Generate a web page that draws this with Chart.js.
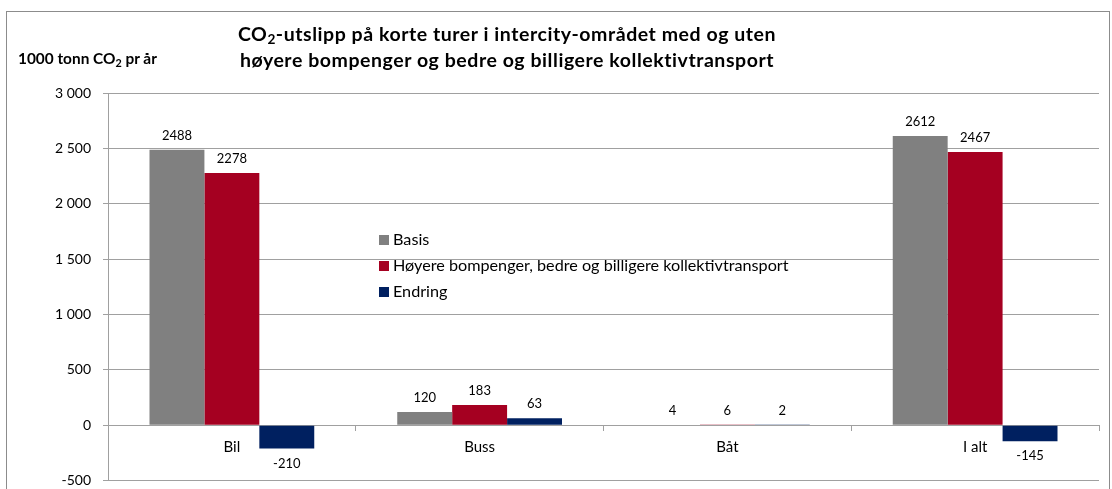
<!DOCTYPE html>
<html>
<head>
<meta charset="utf-8">
<script src="https://cdn.jsdelivr.net/npm/chart.js@4.4.1/dist/chart.umd.min.js"></script>
<style>
  html, body { margin: 0; padding: 0; background: #fff; }
  body { width: 1112px; height: 489px; position: relative; overflow: hidden; font-family: "Lato", "Open Sans", sans-serif; color: #000; }
  #frame { position: absolute; left: 6px; top: 11px; width: 1104px; height: 500px; border: 1px solid #8c8c8c; border-bottom: none; box-sizing: border-box; }
  #wrap { position: absolute; left: 0; top: 0; width: 1112px; height: 501px; }
  #wrap canvas { display: block; }
  #title { position: absolute; left: 155px; width: 704px; top: 21px; text-align: center; font-weight: bold; font-size: 19.5px; letter-spacing: 0.55px; line-height: 26px; }
  #ylab { position: absolute; left: 18px; top: 49px; font-weight: bold; font-size: 15.4px; }
  sub { font-size: 0.7em; vertical-align: -0.25em; line-height: 0; }
  #legend { position: absolute; left: 379px; top: 228px; font-size: 16.2px; }
  #legend div { height: 25.8px; line-height: 22px; white-space: nowrap; }
  #legend span.sw { display: inline-block; width: 10px; height: 10px; margin-right: 4px; vertical-align: 0px; }
</style>
</head>
<body>
<div id="frame"></div>
<div id="wrap"><canvas id="c" width="1112" height="501"></canvas></div>
<div id="title">CO<sub>2</sub>-utslipp på korte turer i intercity-området med og uten<br>høyere bompenger og bedre og billigere kollektivtransport</div>
<div id="ylab">1000 tonn CO<sub>2</sub> pr år</div>
<div id="legend"></div>
<script>
const categories = ["Bil", "Buss", "Båt", "I alt"];
const seriesNames = ["Basis", "Høyere bompenger, bedre og billigere kollektivtransport", "Endring"];
const basis = [2488, 120, 4, 2612];
const tiltak = [2278, 183, 6, 2467];
const endring = [-210, 63, 2, -145];
const yTicks = [-500, 0, 500, 1000, 1500, 2000, 2500, 3000];
const colors = ["#808080", "#A50021", "#002060"];

const leg = document.getElementById('legend');
seriesNames.forEach((n, i) => {
  const d = document.createElement('div');
  d.innerHTML = '<span class="sw" style="background:' + colors[i] + '"></span>' + n;
  leg.appendChild(d);
});

const fmt = v => {
  const s = Math.abs(v).toString().replace(/\B(?=(\d{3})+(?!\d))/g, ' ');
  return (v < 0 ? '-' : '') + s;
};

const labelPlugin = {
  id: 'valueLabels',
  afterDatasetsDraw(chart) {
    const ctx = chart.ctx;
    ctx.save();
    ctx.font = '13px Lato, "Open Sans", sans-serif';
    ctx.fillStyle = '#000';
    ctx.textAlign = 'center';
    ctx.textBaseline = 'middle';
    chart.data.datasets.forEach((ds, di) => {
      const meta = chart.getDatasetMeta(di);
      meta.data.forEach((bar, i) => {
        const v = ds.data[i];
        const y = v >= 0 ? bar.y - 14 : bar.y + 15;
        ctx.fillText(String(v), bar.x, y);
      });
    });
    ctx.restore();
  }
};

new Chart(document.getElementById('c'), {
  type: 'bar',
  data: {
    labels: categories,
    datasets: [
      { label: seriesNames[0], data: basis, backgroundColor: colors[0] },
      { label: seriesNames[1], data: tiltak, backgroundColor: colors[1] },
      { label: seriesNames[2], data: endring, backgroundColor: colors[2] }
    ]
  },
  options: {
    responsive: false,
    animation: false,
    devicePixelRatio: 1,
    layout: { padding: { left: 0, top: 93, right: 13, bottom: 10 } },
    plugins: { legend: { display: false }, tooltip: { enabled: false }, title: { display: false } },
    datasets: { bar: { categoryPercentage: 0.665, barPercentage: 1.0 } },
    scales: {
      x: {
        position: { y: 0 },
        grid: { display: true, drawOnChartArea: false, drawTicks: true, tickLength: 5, offset: true, color: '#a0a0a0' },
        border: { display: true, color: '#a0a0a0' },
        ticks: { color: '#000', font: { family: 'Lato, "Open Sans", sans-serif', size: 15 }, padding: 8 }
      },
      y: {
        min: -500, max: 3000,
        afterFit(scale) { scale.width = 108; },
        afterBuildTicks(scale) { scale.ticks = yTicks.map(v => ({ value: v })); },
        grid: { color: '#a0a0a0', tickLength: 5, drawTicks: true },
        border: { display: true, color: '#a0a0a0' },
        ticks: { color: '#000', font: { family: 'Lato, "Open Sans", sans-serif', size: 14 }, padding: 12, callback: v => fmt(v) }
      }
    }
  },
  plugins: [labelPlugin]
});
</script>
</body>
</html>
